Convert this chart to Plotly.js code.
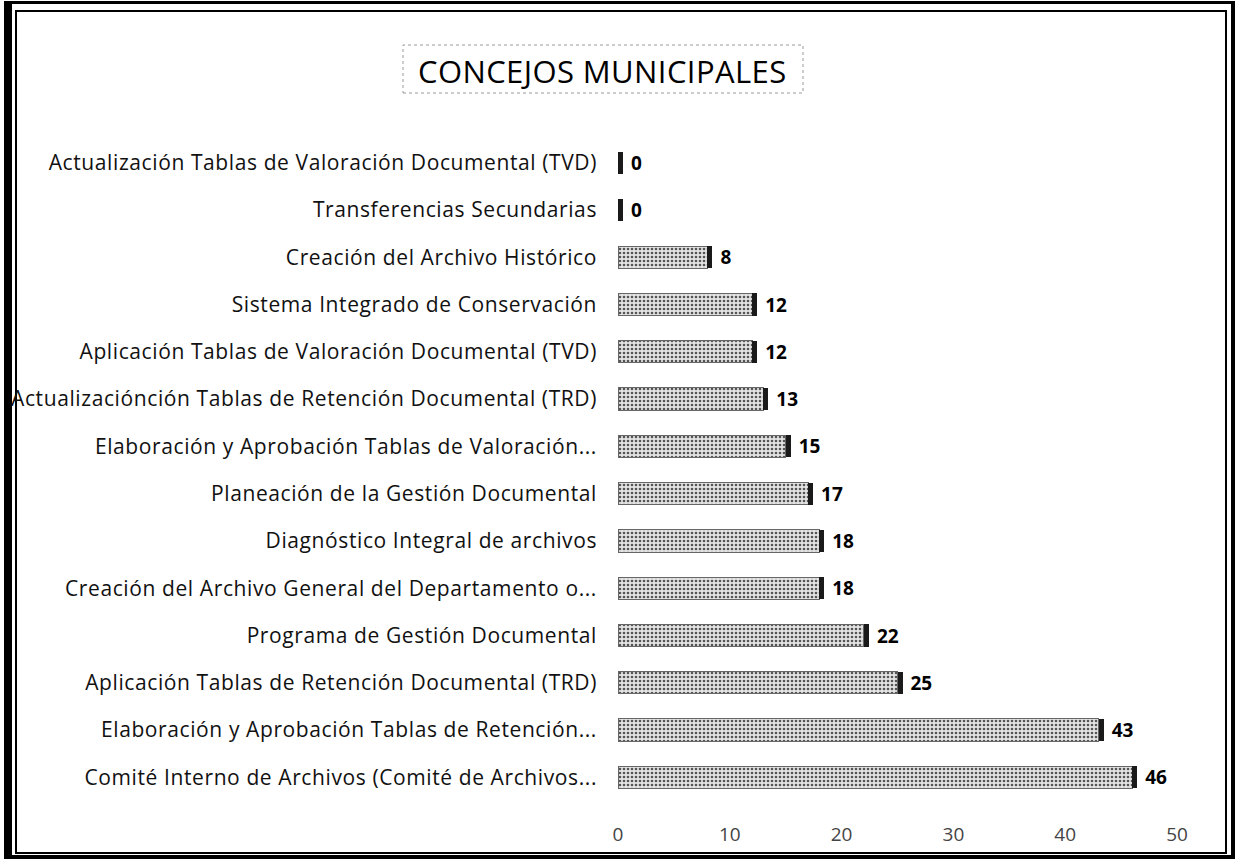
<!DOCTYPE html>
<html>
<head>
<meta charset="utf-8">
<script src="https://cdn.plot.ly/plotly-3.0.1.min.js"></script>
<style>
  html, body { margin: 0; padding: 0; background: #fff; }
  #frame { position: absolute; left: 4px; top: 1px; width: 1219px; height: 851px;
           border-left: 8px solid #000; border-top: 3px solid #000; border-right: 5px solid #000; border-bottom: 4px solid #000; }
  #inner { position: absolute; left: 3px; top: 6px; width: 1208px; height: 840px; border: 2px solid #000; }
  #chart { position: absolute; left: 0; top: 0; width: 1235px; height: 864px; }
  #chart .ytick text { letter-spacing: 0.6px; }
  #chart .annotation-text { letter-spacing: 0.4px; }
</style>
</head>
<body>
<div id="frame"><div id="inner"></div></div>
<div id="chart"></div>
<script>
const categories = [
  "Actualización Tablas de Valoración Documental (TVD)",
  "Transferencias Secundarias",
  "Creación del Archivo Histórico",
  "Sistema Integrado de Conservación",
  "Aplicación Tablas de Valoración Documental (TVD)",
  "Actualizaciónción Tablas de Retención Documental (TRD)",
  "Elaboración y Aprobación Tablas de Valoración...",
  "Planeación de la Gestión Documental",
  "Diagnóstico Integral de archivos",
  "Creación del Archivo General del Departamento o...",
  "Programa de Gestión Documental",
  "Aplicación Tablas de Retención Documental (TRD)",
  "Elaboración y Aprobación Tablas de Retención...",
  "Comité Interno de Archivos (Comité de Archivos..."
];
const values = [0, 0, 8, 12, 12, 13, 15, 17, 18, 18, 22, 25, 43, 46];
const xTicks = [0, 10, 20, 30, 40, 50];
const chartTitle = "CONCEJOS MUNICIPALES";

const FONT = '"Open Sans", "Noto Sans", sans-serif';
const capWidth = 0.45;
const caps = values.map(() => capWidth);

const barTrace = {
  type: 'bar', orientation: 'h',
  y: categories, x: values,
  marker: {
    color: '#d9d9d9',
    pattern: { shape: '.', bgcolor: '#e4e4e4', fgcolor: '#555', size: 4, solidity: 0.35 },
    line: { color: '#666', width: 1 }
  },
  hoverinfo: 'skip'
};
const capTrace = {
  type: 'bar', orientation: 'h',
  y: categories, x: caps,
  marker: { color: '#1a1a1a', line: { width: 0 } },
  text: values.map(v => String(v)),
  texttemplate: '\u00a0%{text}',
  textposition: 'outside',
  cliponaxis: false,
  constraintext: 'none',
  textfont: { family: FONT, size: 19, color: '#000', weight: 'bold' },
  hoverinfo: 'skip'
};

const layout = {
  width: 1235, height: 864,
  paper_bgcolor: 'rgba(0,0,0,0)', plot_bgcolor: 'rgba(0,0,0,0)',
  margin: { l: 618, r: 58, t: 139, b: 63 },
  barmode: 'stack', bargap: 0.53, showlegend: false,
  uniformtext: { mode: false },
  xaxis: {
    range: [0, 50], tickvals: xTicks, ticktext: xTicks.map(String),
    showgrid: false, zeroline: false, showline: false, ticks: '',
    ticklabelstandoff: 20,
    tickfont: { family: FONT, size: 19, color: '#444' }
  },
  yaxis: {
    autorange: 'reversed', showgrid: false, zeroline: false, showline: false, ticks: '',
    ticklabelstandoff: 20,
    tickfont: { family: FONT, size: 21, color: '#111' }
  },
  annotations: [{
    text: chartTitle, showarrow: false,
    xref: 'paper', x: (602 - 618) / 559, xanchor: 'center',
    yref: 'paper', y: (801 - 71) / 662, yanchor: 'middle',
    font: { family: FONT, size: 31, color: '#000' }
  }],
  shapes: [{
    type: 'rect', xref: 'paper', yref: 'paper',
    x0: (403 - 618) / 559, x1: (803 - 618) / 559,
    y0: (801 - 93) / 662, y1: (801 - 45) / 662,
    line: { color: '#999', width: 1, dash: 'dot' }
  }]
};

Plotly.newPlot('chart', [barTrace, capTrace], layout, { displayModeBar: false, staticPlot: true });
</script>
</body>
</html>
